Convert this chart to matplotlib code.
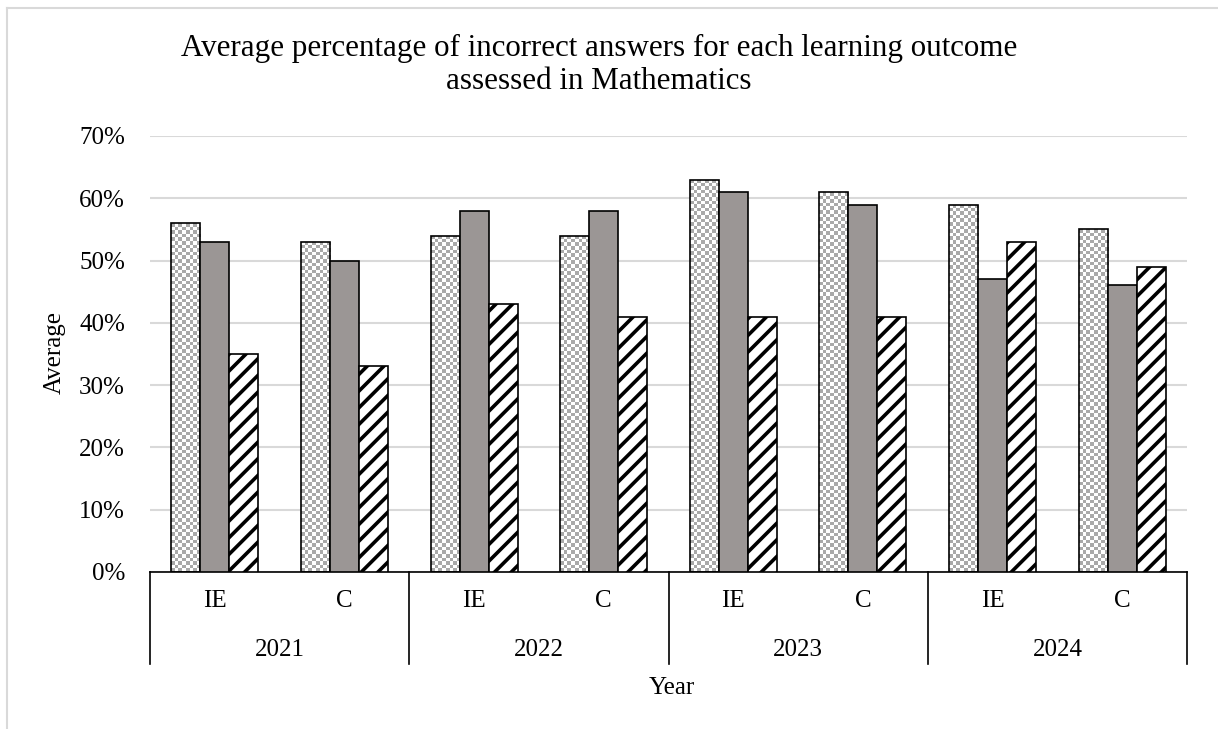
import numpy as np
import matplotlib
matplotlib.use("Agg")
import matplotlib.pyplot as plt
from matplotlib.lines import Line2D
from matplotlib.transforms import blended_transform_factory

plt.rcParams['font.family'] = ['Liberation Serif', 'DejaVu Serif']
plt.rcParams['hatch.linewidth'] = 2.6

# data
years = ["2021", "2022", "2023", "2024"]
groups = ["IE", "C"]
outcome_1 = [56, 53, 54, 54, 63, 61, 59, 55]
outcome_2 = [53, 50, 58, 58, 61, 59, 47, 46]
outcome_3 = [35, 33, 43, 41, 41, 41, 53, 49]
yticks = [0, 10, 20, 30, 40, 50, 60, 70]

W, H = 1218, 729
fig = plt.figure(figsize=(W / 100, H / 100), dpi=100)
ax = fig.add_axes([150 / W, 1 - 572 / H, (1187 - 150) / W, (572 - 136) / H])

n = len(outcome_1)
x = np.arange(n)
bw = 0.224

ax.set_xlim(-0.5, n - 0.5)
ax.set_ylim(0, 70)

b1 = ax.bar(x - bw, outcome_1, bw, facecolor="none", edgecolor="black",
            linewidth=1.2, zorder=3)
b2 = ax.bar(x, outcome_2, bw, color="#9b9695", edgecolor="black",
            linewidth=1.2, zorder=3)
b3 = ax.bar(x + bw, outcome_3, bw, color="white", edgecolor="black",
            hatch="//", linewidth=1.2, zorder=3)

# checker fill for the first series
px_x = (1187 - 150) / n          # pixels per category
px_y = (572 - 136) / 70.0        # pixels per percent
cell = 3.6
for rect in b1:
    x0 = rect.get_x()
    h = rect.get_height()
    nx = max(1, int(round(bw * px_x / cell)))
    ny = max(1, int(round(h * px_y / cell)))
    chk = (np.add.outer(np.arange(ny), np.arange(nx)) % 2).astype(float)
    im = ax.imshow(chk, cmap=matplotlib.colors.ListedColormap(["#a9a9a9", "white"]),
                   extent=(x0, x0 + bw, 0, h), aspect="auto",
                   interpolation="nearest", origin="lower", zorder=2)
    im.set_clip_path(rect)

ax.set_xlim(-0.5, n - 0.5)
ax.set_ylim(0, 70)

ax.set_yticks(yticks)
ax.set_yticklabels([f"{t}%" for t in yticks], fontsize=18)
ax.tick_params(axis="y", length=0, pad=18)
ax.set_xticks([])
ax.grid(axis="y", color="#d9d9d9", linewidth=1.5, zorder=0)
ax.set_axisbelow(True)
for s in ["top", "right", "left"]:
    ax.spines[s].set_visible(False)
ax.spines["bottom"].set_linewidth(1.2)

# two-level category axis
tr = blended_transform_factory(ax.transData, ax.transAxes)
for i in range(n):
    ax.text(i, -0.066, groups[i % 2], transform=tr, ha="center", va="center",
            fontsize=18)
for j, yr in enumerate(years):
    ax.text(2 * j + 0.5, -0.178, yr, transform=tr, ha="center", va="center",
            fontsize=18)
for k in range(len(years) + 1):
    ax.add_line(Line2D([2 * k - 0.5, 2 * k - 0.5], [0, -0.211], transform=tr,
                       color="black", linewidth=1.2, clip_on=False))

fig.text(672 / W, 1 - 688 / H, "Year", ha="center", va="center", fontsize=18)
fig.text(55 / W, 1 - 352 / H, "Average", rotation=90, ha="center",
         va="center", fontsize=18)
fig.text(599 / W, 1 - 65 / H,
         "Average percentage of incorrect answers for each learning outcome\n"
         "assessed in Mathematics", ha="center", va="center", fontsize=22.3,
         linespacing=1.2)

# chart area border
fig.add_artist(Line2D([7 / W, 7 / W], [0, 1 - 8 / H], color="#d9d9d9",
                      linewidth=1.5, transform=fig.transFigure))
fig.add_artist(Line2D([7 / W, 1], [1 - 8 / H, 1 - 8 / H], color="#d9d9d9",
                      linewidth=1.5, transform=fig.transFigure))

fig.savefig("out.png", dpi=100)
